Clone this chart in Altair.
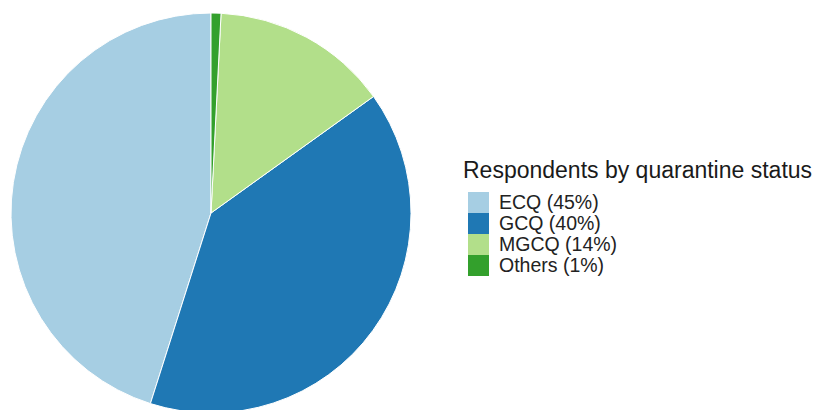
import altair as alt
import pandas as pd

categories = ["ECQ", "GCQ", "MGCQ", "Others"]
labels = ["ECQ (45%)", "GCQ (40%)", "MGCQ (14%)", "Others (1%)"]
shares = [45.1, 39.8, 14.3, 0.8]
colors = ["#a6cee3", "#1f78b4", "#b2df8a", "#33a02c"]
# drawing order clockwise from 12 o'clock (reverse of legend order)
draw_order = [4, 3, 2, 1]
legend_title = "Respondents by quarantine status"

df = pd.DataFrame({
    "category": categories,
    "label": labels,
    "share": shares,
    "ord": draw_order,
})

pie = alt.Chart(df).mark_arc(radius=200, stroke="white", strokeWidth=1).encode(
    theta=alt.Theta("share:Q", stack=True),
    order=alt.Order("ord:Q"),
    x=alt.value(211),
    y=alt.value(213),
    color=alt.Color(
        "label:N",
        scale=alt.Scale(domain=labels, range=colors),
        legend=alt.Legend(
            title=legend_title,
            orient="none",
            legendX=463,
            legendY=160,
            symbolType="square",
            symbolSize=441,
            symbolStrokeWidth=0,
            symbolOffset=5,
            rowPadding=0,
            labelOffset=10,
            titleFont="Liberation Sans",
            titleFontSize=23,
            titleFontWeight="normal",
            titleColor="#1a1a1a",
            titlePadding=9,
            labelFont="Liberation Sans",
            labelFontSize=19.5,
            labelColor="#222222",
            titleLimit=500,
            labelLimit=300,
        ),
    ),
)

chart = pie.properties(
    width=815,
    height=410,
    autosize=alt.AutoSizeParams(type="none"),
    padding=0,
).configure_view(stroke=None)

chart.save("out.html", embed_options={"renderer": "svg", "actions": False})
